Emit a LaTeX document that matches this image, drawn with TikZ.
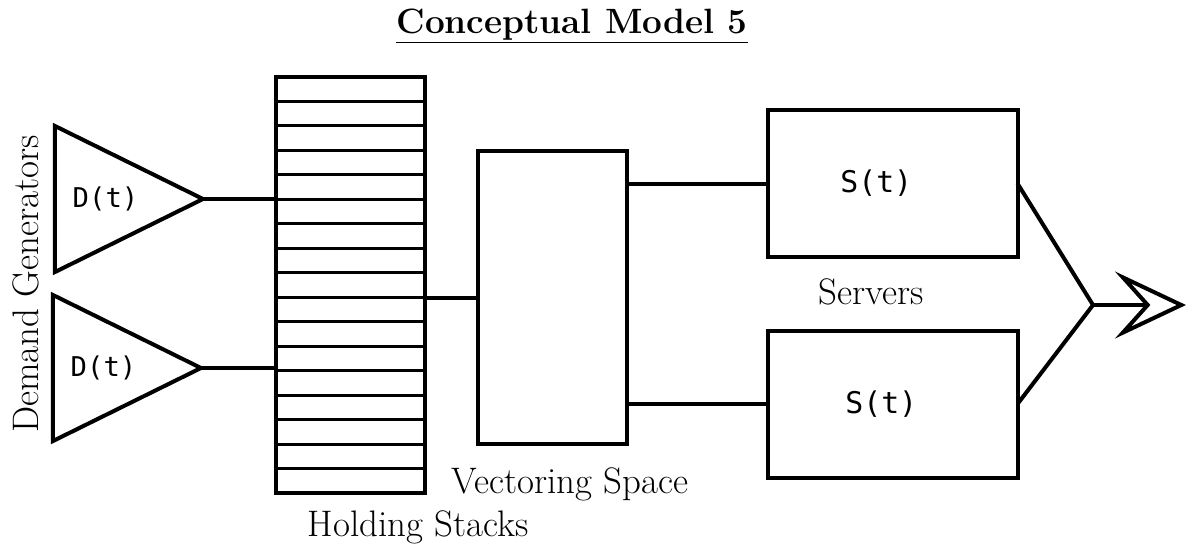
\documentclass[tikz,border=0pt]{standalone}
\usepackage{fontspec}
\newfontfamily\monofont{DejaVu Sans Mono}
\usetikzlibrary{positioning,calc,arrows.meta,shapes.geometric}

\begin{document}
\begin{tikzpicture}[x=0.2mm,y=-0.2mm,line width=0.8mm,
  lbl/.style={font=\fontsize{21}{24}\selectfont,inner sep=0pt},
  gen/.style={draw,isosceles triangle,isosceles triangle stretches,minimum width=29.2mm,minimum height=29.6mm,inner sep=0pt,outer sep=0pt,font=\monofont\fontsize{15.5}{18}\selectfont},
  blk/.style={draw,outer sep=0pt,inner sep=0pt},
  srv/.style={blk,minimum width=50mm,minimum height=29.4mm,font=\monofont\fontsize{17}{20}\selectfont}]
  \useasboundingbox (0,0) rectangle (1189,550);
  \node[font=\bfseries\fontsize{20}{24}\selectfont] (ttl) at (572,26) {\underline{Conceptual Model 5}};
  % demand generators
  \node[gen,anchor=apex] (g1) at (203,199) {D(t)};
  \node[gen,anchor=apex] (g2) at (201,368) {D(t)};
  \node[lbl,rotate=90] (dglbl) at (26,284) {Demand Generators};
  % holding stacks
  \node[blk,minimum width=29.8mm,minimum height=83.2mm] (hs) at (350.5,285) {};
  \foreach \i in {1,...,16}
    \draw[line width=0.6mm] ($(hs.north west)!\i/17!(hs.south west)$) -- ($(hs.north east)!\i/17!(hs.south east)$);
  \node[lbl] (hslbl) at (418,527) {Holding Stacks};
  % vectoring space
  \node[blk,minimum width=29.8mm,minimum height=58.6mm] (vs) at (552.5,297.5) {};
  \node[lbl] (vslbl) at (570,484) {Vectoring Space};
  % servers
  \node[srv] (s1) at (892.5,183.5) {S(t)\kern6.5mm};
  \node[srv] (s2) at (892.5,404) {S(t)\kern4.5mm};
  \node[lbl] (srvlbl) at (871,292) {Servers};
  \coordinate (jn) at (1093,305);
  \coordinate (out) at (1186,305);
  \draw (g1.apex) -- (g1.apex -| hs.west);
  \draw (g2.apex) -- (g2.apex -| hs.west);
  \draw (hs.east |- vs.west) -- (vs.west);
  \draw (vs.east |- s1.west) -- (s1.west);
  \draw (vs.east |- s2.west) -- (s2.west);
  \draw (s1.east) -- (jn) -- (s2.east);
  \draw[-{Stealth[open,length=14.2mm,width=13.4mm,inset=6mm]}] (jn) -- (out);
\end{tikzpicture}
\end{document}
